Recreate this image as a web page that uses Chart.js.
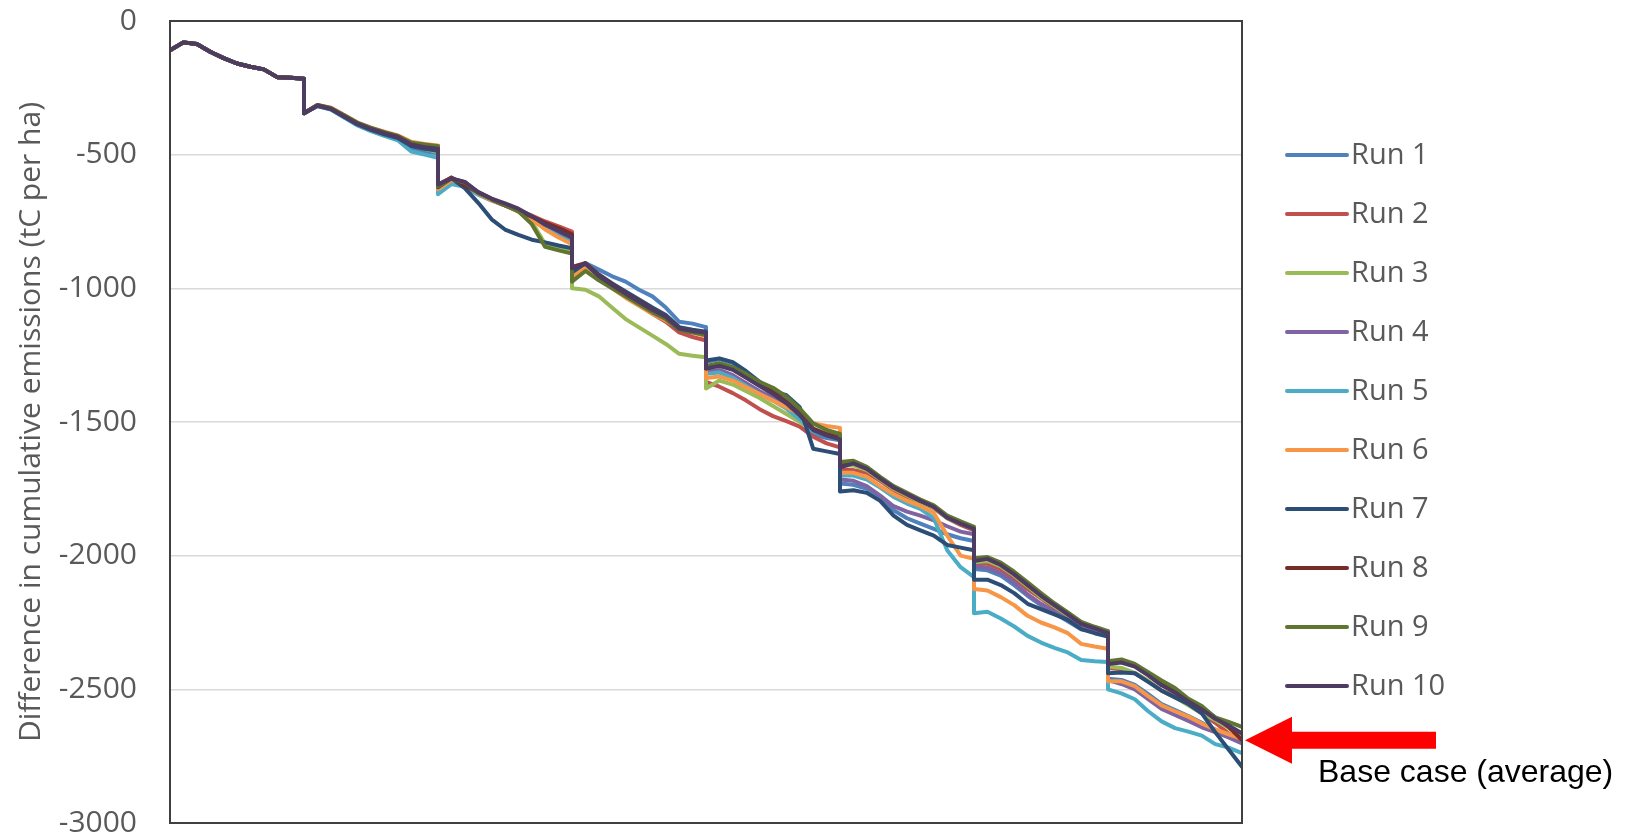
<!DOCTYPE html>
<html>
<head>
<meta charset="utf-8">
<script src="https://cdn.jsdelivr.net/npm/chart.js@4.4.1/dist/chart.umd.min.js"></script>
<style>
  html, body { margin: 0; padding: 0; background: #ffffff; }
  #wrap { width: 1629px; height: 836px; position: relative; }
  canvas { display: block; }
</style>
</head>
<body>
<div id="wrap"><canvas id="chart" width="1629" height="836"></canvas></div>
<script>
// Simulation time steps: 8 harvest cycles of 10 steps each.
// A step value appears twice where the cumulative difference jumps at a cycle boundary.
const steps = [
  0, 1, 2, 3, 4, 5, 6, 7, 8, 9, 10,
  10, 11, 12, 13, 14, 15, 16, 17, 18, 19, 20,
  20, 21, 22, 23, 24, 25, 26, 27, 28, 29, 30,
  30, 31, 32, 33, 34, 35, 36, 37, 38, 39, 40,
  40, 41, 42, 43, 44, 45, 46, 47, 48, 49, 50,
  50, 51, 52, 53, 54, 55, 56, 57, 58, 59, 60,
  60, 61, 62, 63, 64, 65, 66, 67, 68, 69, 70,
  70, 71, 72, 73, 74, 75, 76, 77, 78, 79, 80
];

// Difference in cumulative emissions (tC per ha) for each run
const run1 = [
  -110, -80, -86, -115, -139, -159, -171, -181, -210, -212, -216,
  -345, -318, -330, -360, -390, -410, -428, -442, -475, -488, -495,
  -625, -592, -606, -645, -670, -690, -710, -740, -775, -800, -815,
  -935, -905, -930, -955, -975, -1005, -1030, -1072, -1125, -1132, -1145,
  -1275, -1265, -1280, -1315, -1352, -1388, -1410, -1455, -1545, -1560, -1568,
  -1730, -1735, -1750, -1785, -1830, -1860, -1880, -1900, -1920, -1935, -1945,
  -2050, -2055, -2075, -2110, -2150, -2185, -2215, -2245, -2275, -2285, -2295,
  -2460, -2465, -2483, -2518, -2555, -2578, -2600, -2625, -2650, -2675, -2695
];
const run2 = [
  -110, -80, -86, -115, -139, -159, -171, -181, -210, -212, -216,
  -345, -316, -328, -356, -384, -404, -420, -434, -462, -470, -476,
  -615, -585, -612, -640, -665, -687, -707, -728, -750, -768, -788,
  -930, -910, -958, -995, -1030, -1062, -1095, -1125, -1165, -1182, -1195,
  -1350, -1368, -1392, -1420, -1452, -1478, -1497, -1517, -1555, -1580, -1595,
  -1680, -1680, -1690, -1720, -1755, -1780, -1800, -1822, -1860, -1885, -1905,
  -2030, -2030, -2050, -2085, -2125, -2160, -2195, -2228, -2258, -2275, -2290,
  -2420, -2425, -2440, -2470, -2505, -2525, -2555, -2590, -2625, -2665, -2695
];
const run3 = [
  -110, -80, -86, -115, -139, -159, -171, -181, -210, -212, -216,
  -345, -315, -326, -354, -382, -402, -418, -432, -465, -478, -490,
  -630, -595, -608, -645, -668, -688, -712, -750, -835, -848, -860,
  -1000, -1005, -1030, -1073, -1115, -1146, -1177, -1208, -1245, -1252, -1258,
  -1375, -1345, -1360, -1385, -1410, -1440, -1470, -1500, -1530, -1545, -1555,
  -1665, -1662, -1680, -1715, -1750, -1775, -1800, -1820, -1860, -1880, -1900,
  -2025, -2020, -2040, -2075, -2115, -2155, -2190, -2225, -2255, -2272, -2288,
  -2415, -2420, -2438, -2468, -2505, -2530, -2560, -2590, -2615, -2645, -2670
];
const run4 = [
  -110, -80, -86, -115, -139, -159, -171, -181, -210, -212, -216,
  -345, -317, -329, -357, -386, -406, -422, -436, -462, -470, -478,
  -620, -590, -603, -642, -667, -686, -706, -735, -768, -790, -812,
  -925, -908, -955, -985, -1016, -1046, -1077, -1105, -1150, -1160, -1168,
  -1310, -1305, -1325, -1355, -1385, -1410, -1440, -1480, -1530, -1550, -1560,
  -1715, -1720, -1740, -1775, -1815, -1835, -1850, -1868, -1890, -1910, -1920,
  -2040, -2045, -2065, -2100, -2145, -2180, -2210, -2240, -2270, -2282, -2292,
  -2465, -2480, -2500, -2537, -2573, -2596, -2618, -2642, -2660, -2680, -2702
];
const run5 = [
  -110, -80, -86, -115, -139, -159, -171, -181, -210, -212, -216,
  -345, -318, -331, -361, -391, -412, -430, -446, -488, -500, -512,
  -648, -610, -620, -650, -672, -690, -710, -738, -775, -805, -830,
  -945, -915, -958, -990, -1022, -1052, -1082, -1110, -1150, -1162, -1172,
  -1320, -1315, -1335, -1365, -1395, -1420, -1450, -1490, -1535, -1548, -1560,
  -1700, -1700, -1715, -1745, -1780, -1805, -1825, -1860, -1980, -2043, -2080,
  -2215, -2210, -2235, -2265, -2300, -2325, -2345, -2362, -2390, -2395, -2398,
  -2500, -2515, -2537, -2582, -2620, -2645, -2658, -2673, -2705, -2718, -2739
];
const run6 = [
  -110, -80, -86, -115, -139, -159, -171, -181, -210, -212, -216,
  -345, -314, -324, -352, -380, -399, -414, -428, -452, -460, -466,
  -630, -596, -608, -645, -670, -690, -712, -742, -780, -810, -835,
  -960, -920, -965, -1000, -1035, -1065, -1095, -1120, -1150, -1165, -1180,
  -1335, -1330, -1345, -1370, -1395, -1420, -1445, -1470, -1505, -1515, -1522,
  -1690, -1690, -1705, -1740, -1770, -1795, -1815, -1840, -1925, -2000, -2012,
  -2125, -2130, -2155, -2185, -2225, -2250, -2268, -2290, -2330, -2340, -2348,
  -2470, -2470, -2488, -2525, -2560, -2582, -2602, -2628, -2650, -2668, -2685
];
const run7 = [
  -110, -80, -86, -115, -139, -159, -171, -181, -210, -212, -216,
  -345, -317, -329, -358, -387, -407, -424, -438, -468, -478, -485,
  -622, -588, -625, -680, -742, -780, -800, -818, -828, -840, -850,
  -940, -906, -948, -982, -1012, -1042, -1072, -1100, -1145, -1155, -1162,
  -1270, -1262, -1276, -1310, -1350, -1385, -1400, -1445, -1600, -1610, -1620,
  -1760, -1755, -1765, -1795, -1850, -1885, -1905, -1925, -1960, -1970, -1980,
  -2090, -2090, -2110, -2140, -2180, -2200, -2220, -2240, -2275, -2290, -2303,
  -2440, -2437, -2440, -2472, -2505, -2530, -2555, -2590, -2660, -2725, -2790
];
const run8 = [
  -110, -80, -86, -115, -139, -159, -171, -181, -210, -212, -216,
  -345, -315, -327, -355, -383, -402, -418, -431, -458, -466, -472,
  -612, -586, -614, -642, -667, -690, -710, -732, -755, -775, -798,
  -920, -906, -952, -986, -1018, -1048, -1080, -1108, -1152, -1162, -1170,
  -1300, -1285, -1300, -1330, -1360, -1390, -1425, -1470, -1525, -1545, -1560,
  -1660, -1650, -1672, -1710, -1745, -1770, -1795, -1815, -1855, -1878, -1898,
  -2015, -2008, -2030, -2065, -2108, -2148, -2183, -2218, -2252, -2268, -2286,
  -2400, -2393, -2408, -2440, -2475, -2502, -2540, -2568, -2605, -2640, -2690
];
const run9 = [
  -110, -80, -86, -115, -139, -159, -171, -181, -210, -212, -216,
  -345, -314, -325, -353, -381, -400, -416, -430, -455, -462, -468,
  -618, -590, -604, -643, -666, -688, -712, -760, -845, -858, -870,
  -975, -935, -970, -1000, -1030, -1060, -1090, -1115, -1155, -1165, -1175,
  -1290, -1280, -1295, -1320, -1350, -1372, -1405, -1450, -1505, -1530, -1545,
  -1650, -1645, -1668, -1705, -1740, -1765, -1790, -1812, -1850, -1872, -1892,
  -2010, -2005, -2026, -2060, -2100, -2140, -2178, -2212, -2248, -2266, -2282,
  -2395, -2388, -2405, -2436, -2467, -2495, -2535, -2562, -2605, -2622, -2640
];
const run10 = [
  -110, -80, -86, -115, -139, -159, -171, -181, -210, -212, -216,
  -345, -316, -328, -356, -384, -404, -420, -434, -462, -472, -478,
  -612, -589, -602, -640, -664, -682, -702, -730, -762, -785, -810,
  -925, -908, -954, -988, -1020, -1050, -1080, -1106, -1150, -1160, -1166,
  -1300, -1290, -1305, -1335, -1365, -1395, -1430, -1475, -1530, -1550, -1565,
  -1670, -1655, -1675, -1712, -1745, -1770, -1795, -1818, -1858, -1880, -1900,
  -2020, -2012, -2035, -2070, -2110, -2150, -2185, -2220, -2255, -2272, -2290,
  -2405, -2400, -2415, -2448, -2485, -2512, -2545, -2575, -2610, -2635, -2665
];

const runLabels = ['Run 1', 'Run 2', 'Run 3', 'Run 4', 'Run 5', 'Run 6', 'Run 7', 'Run 8', 'Run 9', 'Run 10'];
const runValues = [run1, run2, run3, run4, run5, run6, run7, run8, run9, run10];
const runColors = ['#4F81BD', '#C0504D', '#9BBB59', '#8064A2', '#4BACC6', '#F79646', '#2C4D75', '#772C2A', '#5F7530', '#4D3B62'];

const yTicks = [0, -500, -1000, -1500, -2000, -2500, -3000];
const baseCaseValue = -2690;               // average of the runs at the final step
const baseCaseLabel = 'Base case (average)';
const axisTitle = 'Difference in cumulative emissions (tC per ha)';

const textGrey = '#595959';
const uiFont = "'Open Sans', 'DejaVu Sans', sans-serif";

const datasets = runLabels.map((label, i) => ({
  label,
  data: steps.map((s, k) => ({ x: s, y: runValues[i][k] })),
  borderColor: runColors[i],
  backgroundColor: runColors[i],
  borderWidth: 4,
  borderJoinStyle: 'round',
  borderCapStyle: 'round',
  pointRadius: 0,
  tension: 0,
  fill: false,
  order: runLabels.length - i   // later runs painted on top
}));

// Frame around the plot area
const plotFrame = {
  id: 'plotFrame',
  afterDatasetsDraw(chart) {
    const { ctx, chartArea: a } = chart;
    ctx.save();
    ctx.strokeStyle = '#404040';
    ctx.lineWidth = 2;
    ctx.strokeRect(a.left, a.top, a.right - a.left, a.bottom - a.top);
    ctx.restore();
  }
};

// Legend column to the right of the plot
const sideLegend = {
  id: 'sideLegend',
  afterDraw(chart) {
    const { ctx, chartArea: a } = chart;
    const x0 = a.right + 45, lineLen = 60, gap = 4;
    const y0 = 155, rowStep = 59;
    ctx.save();
    ctx.font = '29px ' + uiFont;
    ctx.textBaseline = 'middle';
    ctx.textAlign = 'left';
    chart.data.datasets.forEach((ds, i) => {
      const y = y0 + i * rowStep;
      ctx.strokeStyle = ds.borderColor;
      ctx.lineWidth = 4;
      ctx.lineCap = 'round';
      ctx.beginPath();
      ctx.moveTo(x0, y);
      ctx.lineTo(x0 + lineLen, y);
      ctx.stroke();
      ctx.fillStyle = textGrey;
      ctx.fillText(ds.label, x0 + lineLen + gap, y + 1);
    });
    ctx.restore();
  }
};

// Red arrow pointing at the base-case end value
const baseCaseArrow = {
  id: 'baseCaseArrow',
  afterDraw(chart) {
    const { ctx } = chart;
    const xs = chart.scales.x, ys = chart.scales.y;
    const tipX = xs.getPixelForValue(steps[steps.length - 1]) + 3;
    const tipY = ys.getPixelForValue(baseCaseValue);
    const headLen = 47, headHalf = 23.5, shaftEnd = tipX + 191, shaftHalf = 8.5;
    ctx.save();
    ctx.fillStyle = '#FF0000';
    ctx.beginPath();
    ctx.moveTo(tipX, tipY);
    ctx.lineTo(tipX + headLen, tipY - headHalf);
    ctx.lineTo(tipX + headLen, tipY - shaftHalf);
    ctx.lineTo(shaftEnd, tipY - shaftHalf);
    ctx.lineTo(shaftEnd, tipY + shaftHalf);
    ctx.lineTo(tipX + headLen, tipY + shaftHalf);
    ctx.lineTo(tipX + headLen, tipY + headHalf);
    ctx.closePath();
    ctx.fill();
    ctx.fillStyle = '#000000';
    ctx.font = "32px 'Liberation Sans', Arial, sans-serif";
    ctx.textBaseline = 'alphabetic';
    ctx.textAlign = 'left';
    ctx.fillText(baseCaseLabel, tipX + 73, tipY + 42);
    ctx.restore();
  }
};

new Chart(document.getElementById('chart'), {
  type: 'line',
  data: { datasets },
  options: {
    responsive: false,
    animation: false,
    events: [],
    layout: { padding: { top: 21, right: 387, bottom: 13, left: 0 } },
    plugins: {
      legend: { display: false },
      tooltip: { enabled: false },
      title: { display: false }
    },
    scales: {
      x: {
        type: 'linear',
        min: steps[0],
        max: steps[steps.length - 1],
        display: false
      },
      y: {
        type: 'linear',
        min: yTicks[yTicks.length - 1],
        max: yTicks[0],
        afterBuildTicks(scale) {
          scale.ticks = yTicks.map(v => ({ value: v }));
        },
        afterFit(scale) {
          scale.width = 170;
          scale.paddingTop = 0;
          scale.paddingBottom = 0;
        },
        border: { display: false },
        grid: {
          color: '#d9d9d9',
          lineWidth: 1.5,
          drawTicks: false
        },
        ticks: {
          padding: 33,
          color: textGrey,
          font: { family: uiFont, size: 30 },
          callback: v => String(v)
        },
        title: {
          display: true,
          text: axisTitle,
          color: textGrey,
          font: { family: uiFont, size: 30 },
          padding: { top: 13, bottom: 0 }
        }
      }
    }
  },
  plugins: [plotFrame, sideLegend, baseCaseArrow]
});
</script>
</body>
</html>
